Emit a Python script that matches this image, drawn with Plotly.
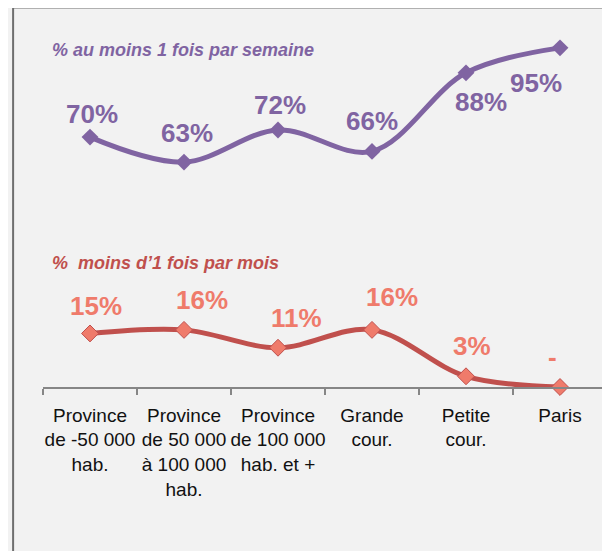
import plotly.graph_objects as go

# categories (line breaks as in the original axis)
categories = [
    "Province<br>de -50 000<br>hab.",
    "Province<br>de 50 000<br>à 100 000<br>hab.",
    "Province<br>de 100 000<br>hab. et +",
    "Grande<br>cour.",
    "Petite<br>cour.",
    "Paris",
]
weekly_name = "% au moins 1 fois par semaine"
weekly = [70, 63, 72, 66, 88, 95]
monthly_name = "%  moins d\u20191 fois par mois"
monthly = [15, 16, 11, 16, 3, 0]

PURPLE = "#8064a2"
RED = "#c0504d"
SALMON = "#ef7b6b"
LABEL_FONT = "Liberation Sans, Arial, sans-serif"

# label offsets (px) per point
weekly_off = [(2, 23), (3, 29), (2, 25), (0, 30), (15, -29), (-24, -35)]
monthly_off = [(6, 27), (18, 30), (18, 30), (20, 33), (6, 30), (-8, 30)]

fig = go.Figure()
fig.add_trace(go.Scatter(
    x=categories, y=weekly, mode="lines+markers", name=weekly_name,
    line=dict(color=PURPLE, width=5, shape="spline", smoothing=1),
    marker=dict(symbol="diamond", size=13, color=PURPLE),
    cliponaxis=False, hoverinfo="skip",
))
fig.add_trace(go.Scatter(
    x=categories, y=monthly, mode="lines+markers", name=monthly_name,
    line=dict(color=RED, width=5, shape="spline", smoothing=1),
    marker=dict(symbol="diamond", size=13, color=SALMON, line=dict(color=RED, width=1)),
    cliponaxis=False, hoverinfo="skip",
))

annotations = []
for cat, v, (dx, dy) in zip(categories, weekly, weekly_off):
    annotations.append(dict(
        x=cat, y=v, xref="x", yref="y", text=f"{v}%", showarrow=False,
        xshift=dx, yshift=dy, font=dict(family=LABEL_FONT, size=26, color=PURPLE, weight="bold"),
    ))
for cat, v, (dx, dy) in zip(categories, monthly, monthly_off):
    annotations.append(dict(
        x=cat, y=v, xref="x", yref="y", text=f"{v}%" if v > 0 else "-", showarrow=False,
        xshift=dx, yshift=dy, font=dict(family=LABEL_FONT, size=26, color=SALMON, weight="bold"),
    ))

# series titles
annotations.append(dict(
    x=0.012, y=0.918, xref="paper", yref="paper", xanchor="left", yanchor="middle",
    text=f"<b><i>{weekly_name}</i></b>", showarrow=False,
    font=dict(family=LABEL_FONT, size=18, color=PURPLE),
))
annotations.append(dict(
    x=0.012, y=0.338, xref="paper", yref="paper", xanchor="left", yanchor="middle",
    text=f"<b><i>{monthly_name}</i></b>", showarrow=False,
    font=dict(family=LABEL_FONT, size=18, color=RED),
))

# the page body adds an 8px offset, so margins are shifted to compensate
fig.update_layout(
    width=610, height=551,
    margin=dict(l=35, r=11, t=12, b=172, autoexpand=False),
    paper_bgcolor="#f2f2f2", plot_bgcolor="#f2f2f2",
    showlegend=False,
    annotations=annotations,
    shapes=[dict(
        type="rect", xref="paper", yref="paper",
        x0=-0.053, x1=1.2, y0=-1.0, y1=1.034,
        line=dict(color="#6f6f6f", width=2), fillcolor="rgba(0,0,0,0)",
    )],
    xaxis=dict(
        type="category", tickson="boundaries", ticks="outside", ticklen=6,
        tickcolor="#868686", tickwidth=1.5, showline=True, linecolor="#868686",
        linewidth=1.5, showgrid=False, zeroline=False, tickangle=0, automargin=False,
        ticklabelstandoff=10,
        tickfont=dict(family=LABEL_FONT, size=19, color="#111111"),
        range=[-0.5, 5.5],
    ),
    yaxis=dict(range=[0, 102.8], visible=False, showgrid=False, zeroline=False),
)

fig.write_html("out.html")
